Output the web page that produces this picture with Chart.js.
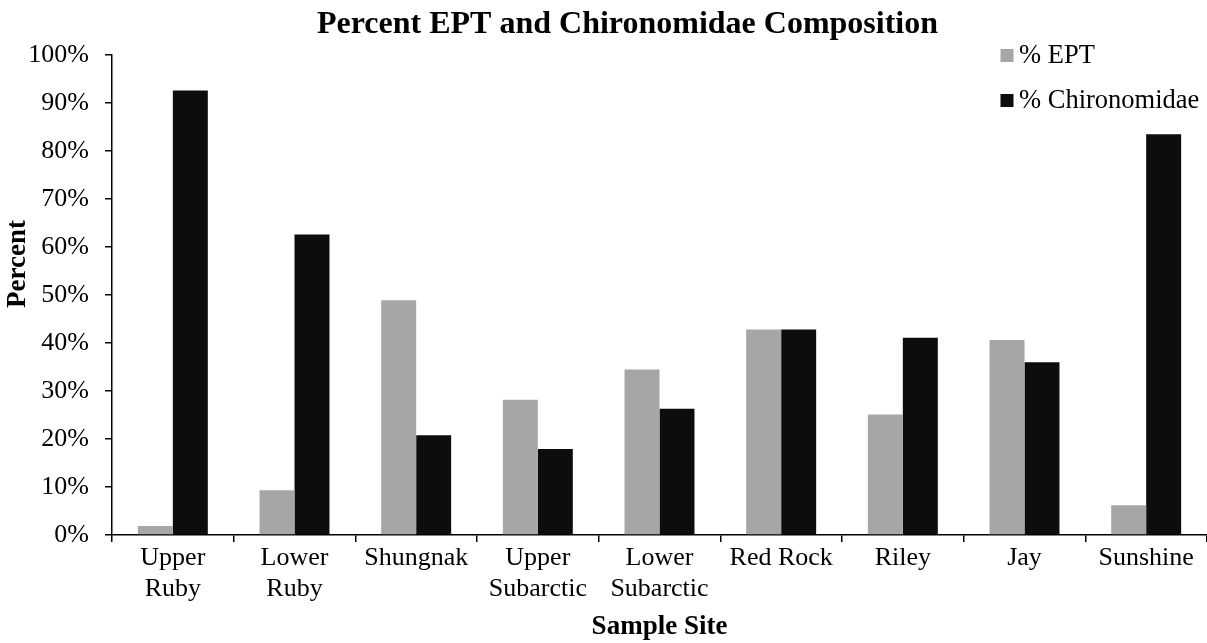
<!DOCTYPE html>
<html>
<head>
<meta charset="utf-8">
<script src="https://cdn.jsdelivr.net/npm/chart.js@4"></script>
<style>
  html, body { margin: 0; padding: 0; background: #fff; }
  #wrap { width: 1207px; height: 643px; position: relative; }
</style>
</head>
<body>
<div id="wrap"><canvas id="c" width="1207" height="643"></canvas></div>
<script>
const chartTitle = "Percent EPT and Chironomidae Composition";
const xTitle = "Sample Site";
const yTitle = "Percent";
const categories = [["Upper", "Ruby"], ["Lower", "Ruby"], "Shungnak", ["Upper", "Subarctic"], ["Lower", "Subarctic"], "Red Rock", "Riley", "Jay", "Sunshine"];
const seriesNames = ["% EPT", "% Chironomidae"];
const eptValues = [1.9, 9.3, 48.9, 28.2, 34.5, 42.8, 25.1, 40.6, 6.2];
const chiroValues = [92.6, 62.6, 20.8, 17.9, 26.3, 42.8, 41.1, 36.0, 83.5];
const yMin = 0, yMax = 100, yStep = 10;

const SERIF = "'Liberation Serif', 'Times New Roman', serif";
const colors = ["#A6A6A6", "#0D0D0D"];

const overlay = {
  id: 'overlay',
  afterDraw(chart) {
    const ctx = chart.ctx;
    ctx.save();
    // title
    ctx.fillStyle = '#000';
    ctx.font = "bold 32px " + SERIF;
    ctx.textAlign = 'center';
    ctx.textBaseline = 'alphabetic';
    ctx.fillText(chartTitle, 627.5, 33);
    // y axis title
    ctx.save();
    ctx.translate(25, 264);
    ctx.rotate(-Math.PI / 2);
    ctx.font = "bold 27px " + SERIF;
    ctx.textAlign = 'center';
    ctx.fillText(yTitle, 0, 0);
    ctx.restore();
    // legend
    ctx.font = "26.5px " + SERIF;
    ctx.textAlign = 'left';
    chart.data.datasets.forEach((ds, i) => {
      const top = 49 + i * 45;
      ctx.fillStyle = ds.backgroundColor;
      ctx.fillRect(1000.5, top, 13, 13);
      ctx.fillStyle = '#000';
      ctx.fillText(ds.label, 1019, top + 14);
    });
    ctx.restore();
  }
};

new Chart(document.getElementById('c'), {
  type: 'bar',
  data: {
    labels: categories,
    datasets: [
      { label: seriesNames[0], data: eptValues, backgroundColor: colors[0], borderWidth: 0 },
      { label: seriesNames[1], data: chiroValues, backgroundColor: colors[1], borderWidth: 0 }
    ]
  },
  options: {
    responsive: false,
    animation: false,
    devicePixelRatio: 1,
    layout: { padding: { top: 55, right: 0, left: 0, bottom: 0 } },
    plugins: {
      legend: { display: false },
      title: { display: false },
      tooltip: { enabled: false }
    },
    datasets: { bar: { categoryPercentage: 0.575, barPercentage: 1.0 } },
    scales: {
      x: {
        afterFit(scale) { scale.height = 108; },
        grid: { display: true, drawOnChartArea: false, drawTicks: true, tickLength: 7, color: '#000', lineWidth: 1.5, offset: true },
        border: { display: true, color: '#000', width: 1.5 },
        ticks: { color: '#000', font: { family: SERIF, size: 26, lineHeight: 1.18 }, padding: 1, maxRotation: 0, autoSkip: false },
        title: { display: true, text: xTitle, color: '#000', font: { family: SERIF, size: 27, weight: 'bold', lineHeight: 1.2 }, padding: { top: 0, bottom: 0 } }
      },
      y: {
        min: yMin, max: yMax,
        afterFit(scale) { scale.width = 112; },
        grid: { display: true, drawOnChartArea: false, drawTicks: true, tickLength: 7, color: '#000', lineWidth: 1.5 },
        border: { display: true, color: '#000', width: 1.5 },
        ticks: { stepSize: yStep, color: '#000', padding: 16, font: { family: SERIF, size: 26 }, callback: v => v + '%' },
        title: { display: false }
      }
    }
  },
  plugins: [overlay]
});
</script>
</body>
</html>
